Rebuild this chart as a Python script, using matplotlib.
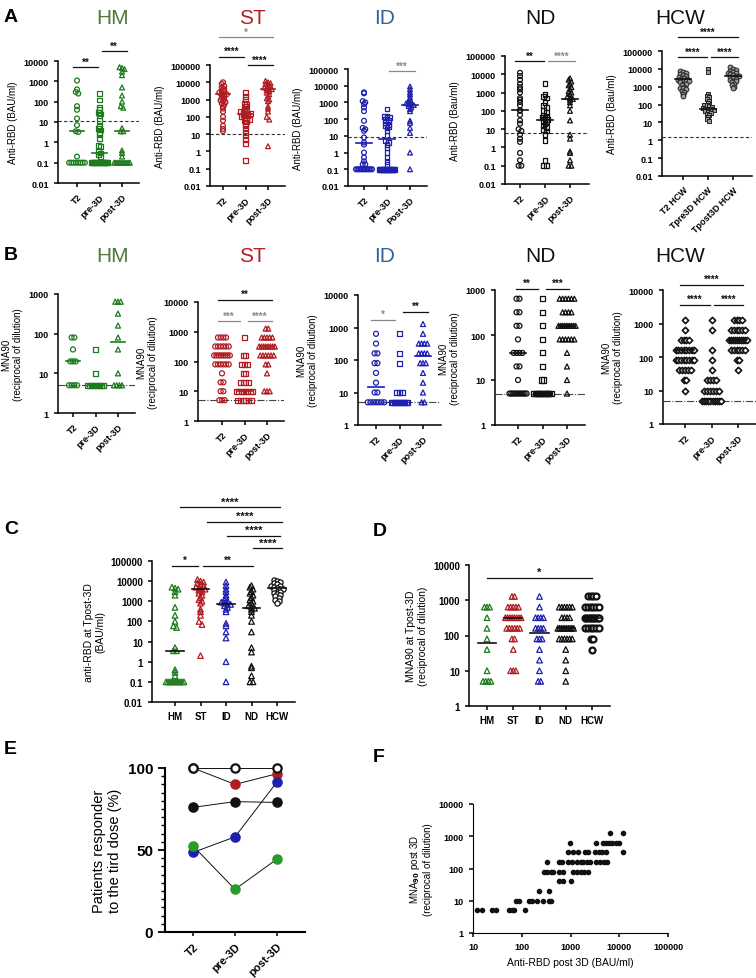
import numpy as np
import matplotlib
matplotlib.use("Agg")
import matplotlib.pyplot as plt
from matplotlib.ticker import NullLocator, MultipleLocator

plt.rcParams['font.family'] = ['Liberation Sans', 'DejaVu Sans']
plt.rcParams['font.weight'] = 'bold'

# ---------------- data ----------------
tp = ["T2", "pre-3D", "post-3D"]
tp_id = ["T2", "pre-3D", "Post-3D"]
tp_hcw = ["T2 HCW", "Tpre3D HCW", "Tpost3D HCW"]
groups = ["HM", "ST", "ID", "ND", "HCW"]

# Panel A: anti-RBD (BAU/ml)
hm_t2 = [1100, 400, 300, 250, 60, 40, 15, 7, 3.5, 3.2, 0.2] + [0.1] * 8
hm_pre = [250, 120, 50, 40, 30, 25, 20, 12, 6, 5, 4, 3, 2.5, 1.5, 0.7, 0.6, 0.35, 0.3, 0.25, 0.2] + [0.1] * 16
hm_post = [5000, 4500, 4000, 3000, 2000, 500, 200, 100, 60, 50, 5, 3.5, 3.5, 0.4, 0.3, 0.2] + [0.1] * 10
st_t2 = [10000, 8000, 6000, 5000, 4000, 3500, 3000, 2500, 2200, 2000, 2000, 1800, 1500, 1200, 1000,
         900, 800, 700, 600, 500, 400, 300, 200, 100, 60, 30, 20, 15]
st_pre = [2500, 1500, 1000, 600, 500, 400, 300, 250, 200, 180, 160, 150, 150, 140, 130, 120, 100, 90,
          80, 70, 60, 50, 40, 30, 20, 12, 8, 5, 3, 0.3]
st_post = [12000, 10000, 9000, 8000, 7000, 6000, 5000, 4500, 4000, 4000, 3500, 3000, 2500, 2000, 1500,
           1200, 1000, 800, 400, 300, 200, 100, 70, 2]
id_t2 = [4000, 3500, 1200, 1000, 800, 500, 300, 80, 30, 25, 20, 8, 4, 3, 1, 0.5, 0.3, 0.2, 0.2] + [0.1] * 12
id_pre = [400, 150, 140, 130, 120, 100, 80, 60, 50, 40, 35, 30, 20, 10, 5, 4, 3, 2, 1, 0.5, 0.3, 0.2] + [0.1] * 16
id_post = [9000, 6000, 4000, 3000, 2000, 1500, 1200, 1000, 900, 800, 700, 700, 600, 500, 400, 300,
           80, 60, 30, 15, 1, 0.1]
nd_t2 = [12000, 8000, 5000, 3000, 2000, 1500, 1000, 500, 400, 300, 200, 110, 100, 60, 30, 20, 10, 8,
         5, 3, 2, 0.5, 0.2, 0.1, 0.1]
nd_pre = [3000, 800, 600, 500, 300, 200, 150, 100, 80, 60, 50, 45, 40, 35, 30, 25, 20, 15, 12, 10, 8,
          5, 2.5, 0.2, 0.1, 0.1]
nd_post = [6000, 5000, 4000, 3000, 2500, 2000, 1500, 1200, 1000, 800, 600, 500, 450, 400, 300, 200,
           100, 30, 5, 3, 0.6, 0.5, 0.2, 0.1, 0.1]
hcw_t2 = [8000, 7000, 6000, 5000, 4500, 4000, 3500, 3000, 3000, 2800, 2500, 2500, 2200, 2000, 2000,
          1800, 1500, 1400, 1200, 1000, 900, 800, 700, 600, 500, 400, 300]
hcw_pre = [10000, 7000, 400, 300, 250, 200, 150, 120, 100, 90, 80, 70, 65, 60, 60, 55, 50, 45, 40, 35,
           30, 25, 20, 15, 12]
hcw_post = [12000, 10000, 9000, 8000, 7000, 6000, 5500, 5000, 4500, 4000, 4000, 3500, 3000, 2800,
            2500, 2200, 2000, 1800, 1500, 1200, 1000, 800]
a_medians = {"HM": [3.5, 0.3, 3.5], "ST": [2000, 150, 4000], "ID": [4, 6.5, 700],
             "ND": [110, 30, 450], "HCW": [2600, 60, 4200]}
a_cutoff = {"HM": 11, "ST": 10, "ID": 9, "ND": 6, "HCW": 1.6}

# Panel B: MNA90 (reciprocal of dilution)
b_hm_t2 = [80, 80, 40, 20, 20, 20, 5, 5, 5, 5]
b_hm_pre = [40, 10] + [5] * 9
b_hm_post = [640, 640, 640, 320, 160, 80, 40, 10, 5, 5, 5, 5]
b_st_t2 = [640] * 4 + [320] * 6 + [160] * 8 + [80] * 6 + [40] + [20] * 2 + [10] * 2 + [5] * 3
b_st_pre = [640] + [160] * 2 + [80] * 3 + [40] * 2 + [20] * 4 + [10] * 8 + [5] * 6
b_st_post = [1280] * 2 + [640] * 5 + [320] * 8 + [160] * 6 + [80] * 2 + [40] + [10] * 3
b_id_t2 = [640, 320, 160, 160, 80, 80, 40, 20, 10, 10] + [5] * 7
b_id_pre = [640, 160, 80, 10, 10, 10] + [5] * 12
b_id_post = [1280, 640, 320, 320, 320, 320, 160, 160, 160, 160, 80, 80, 80, 40, 20, 10, 5, 5]
b_nd_t2 = [640, 640, 320, 320, 160, 160, 80, 40, 40, 40, 40, 20, 20, 10] + [5] * 10
b_nd_pre = [640, 320, 160, 80, 40, 20, 10, 10] + [5] * 16
b_nd_post = [640] * 6 + [320] * 4 + [160] * 10 + [80] * 6 + [40, 20, 10, 5]
b_hcw_t2 = [1280, 640] + [320] * 4 + [160] * 8 + [80] * 8 + [40] * 5 + [20] * 2 + [10]
b_hcw_pre = [1280, 640, 160, 80, 40] + [20] * 4 + [10] * 6 + [5] * 10
b_hcw_post = [1280] * 4 + [640] * 6 + [320] * 10 + [160] * 6 + [80] * 2 + [40]
b_medians = {"HM": [20, 5, 60], "ST": [160, 10, 320], "ID": [15, 5, 130],
             "ND": [40, 5, 160], "HCW": [160, 5.5, 320]}

c_medians = [3.5, 4000, 700, 450, 4500]
d_medians = [60, 320, 120, 160, 320]

# Panel E: % responders
e_hcw = [100, 100, 100]
e_st = [100, 90, 96.5]
e_nd = [76, 79.5, 79]
e_id = [48.5, 58, 91.5]
e_hm = [52.5, 26, 44.5]

# Panel F: anti-RBD vs MNA90 post 3D
f_rbd = [12, 15.6, 25, 30, 55, 62, 69, 114,
         75, 88, 138, 166, 204, 270, 357, 397,
         229, 357,
         280, 331, 390, 435,
         331, 590, 670, 870, 1050, 1330, 1610, 1770, 2150, 2500, 3300, 4040, 4900, 5700,
         570, 690, 1030,
         590, 690, 1130, 1330, 1610, 1900, 2300,
         870, 1130, 1440, 1980, 2300, 3190, 3800, 4500, 5300, 12000,
         990, 3300, 4640, 5300, 6200, 7200, 8500, 10000,
         6400, 12000]
f_mna = [5] * 8 + [10] * 8 + [20] * 2 + [80] * 4 + [160] * 14 + [40] * 3 + [80] * 7 + [320] * 10 + [640] * 8 + [1280] * 2

# ---------------- styling ----------------
GREEN, RED, BLUE, BLACK = '#1d7a1d', '#b01c22', '#1f1fb0', '#111111'
TITLE_COL = {"HM": '#4d7a3c', "ST": '#b52025', "ID": '#2f6496', "ND": '#111111', "HCW": '#111111'}
GCOL = {"HM": GREEN, "ST": RED, "ID": BLUE, "ND": BLACK, "HCW": BLACK}

W, H = 756, 979
fig = plt.figure(figsize=(W / 100, H / 100), dpi=100)


def make_ax(spine, t0, t_last, top, bot, n=3, right_pad=0.75):
    s = (t_last - t0) / (n - 1)
    right = t_last + right_pad * s
    ax = fig.add_axes([spine / W, 1 - bot / H, (right - spine) / W, (bot - top) / H])
    ax.set_xlim(-(t0 - spine) / s, n - 1 + right_pad)
    for sp in ['top', 'right']:
        ax.spines[sp].set_visible(False)
    for sp in ['left', 'bottom']:
        ax.spines[sp].set_linewidth(1.1)
    ax.tick_params(width=1.1, length=3, labelsize=6.5)
    return ax


def log_y(ax, lo, hi):
    ax.set_yscale('log')
    ax.set_ylim(10.0 ** lo, 10.0 ** hi)
    ticks = 10.0 ** np.arange(lo, hi + 1)
    ax.set_yticks(ticks)
    ax.set_yticklabels([f"{int(t)}" if t >= 1 else f"{t:g}" for t in ticks])
    ax.yaxis.set_minor_locator(NullLocator())


def swarm(ax, xc, vals, marker, ec, fc='none', step=0.11, maxw=0.7, bw=0.16, s=12, lw=0.9):
    vals = np.asarray(vals, float)
    b = np.round(np.log10(vals) / bw)
    xs = np.zeros(len(vals))
    for u in np.unique(b):
        idx = np.where(b == u)[0]
        n = len(idx)
        st = min(step, maxw / max(n - 1, 1))
        xs[idx] = xc + (np.arange(n) - (n - 1) / 2) * st
    ax.scatter(xs, vals, marker=marker, s=s, facecolors=fc, edgecolors=ec,
               linewidths=lw, zorder=3, clip_on=False)


def median(ax, xc, m, color, hw=0.33):
    ax.plot([xc - hw, xc + hw], [m, m], color=color, lw=1.2, zorder=4)


def sig(ax, x1, x2, yf, text, color=BLACK, fs=7):
    tr = ax.get_xaxis_transform()
    ax.plot([x1, x2], [yf, yf], transform=tr, color=color, lw=0.9, clip_on=False)
    ax.text((x1 + x2) / 2, yf + 0.005, text, transform=tr, ha='center', va='bottom',
            fontsize=fs, color=color)


def xlabels(ax, labels, fs=6.5):
    ax.set_xticks(range(len(labels)))
    ax.set_xticklabels(labels, rotation=45, ha='right', rotation_mode='anchor', fontsize=fs)


markers = ['o', 's', '^']

# ---------------- Panel A ----------------
a_data = {"HM": [hm_t2, hm_pre, hm_post], "ST": [st_t2, st_pre, st_post],
          "ID": [id_t2, id_pre, id_post], "ND": [nd_t2, nd_pre, nd_post],
          "HCW": [hcw_t2, hcw_pre, hcw_post]}
a_geom = {"HM": (58, 77, 122, 62, 184, -2, 4), "ST": (210, 223, 268, 66, 187, -2, 5),
          "ID": (348, 364, 410, 70, 187, -2, 5), "ND": (505, 520, 570, 57, 185, -2, 5),
          "HCW": (662, 683, 733, 52, 177, -2, 5)}
a_title_x = {"HM": 113, "ST": 252, "ID": 385, "ND": 540, "HCW": 680}
a_sig = {"HM": [(-0.2, 0.95, 0.95, '**', BLACK), (1.1, 2.2, 1.08, '**', BLACK)],
         "ST": [(-0.2, 0.95, 1.07, '****', BLACK), (1.1, 2.2, 1.0, '****', BLACK),
                (-0.2, 2.2, 1.23, '*', '#888888')],
         "ID": [(1.1, 2.2, 0.98, '***', '#888888')],
         "ND": [(-0.2, 0.95, 0.96, '**', BLACK), (1.1, 2.2, 0.96, '****', '#888888')],
         "HCW": [(-0.2, 0.95, 0.95, '****', BLACK), (1.1, 2.2, 0.95, '****', BLACK),
                 (-0.2, 2.2, 1.11, '****', BLACK)]}

for g in groups:
    spine, t0, t2, top, bot, lo, hi = a_geom[g]
    ax = make_ax(spine, t0, t2, top, bot)
    log_y(ax, lo, hi)
    c = GCOL[g]
    for i, vals in enumerate(a_data[g]):
        if g == "HCW":
            swarm(ax, i, vals, ['o', 's', 'o'][i], '#222222', fc='#9a9a9a', lw=0.7, maxw=0.85)
        else:
            swarm(ax, i, vals, markers[i], c)
        median(ax, i, a_medians[g][i], c)
    ax.axhline(a_cutoff[g], ls=(0, (3, 2)), color='#333333', lw=0.8, zorder=1)
    xlabels(ax, tp_hcw if g == "HCW" else (tp_id if g == "ID" else tp))
    ax.set_ylabel("Anti-RBD (Bau/ml)" if g in ("ND", "HCW") else "Anti-RBD (BAU/ml)", fontsize=7)
    for x1, x2, yf, t, col in a_sig[g]:
        sig(ax, x1, x2, yf, t, col)
    fig.text(a_title_x[g] / W, 1 - 18 / H, g, color=TITLE_COL[g], fontsize=15,
             fontweight='normal', ha='center', va='center')

# ---------------- Panel B ----------------
b_data = {"HM": [b_hm_t2, b_hm_pre, b_hm_post], "ST": [b_st_t2, b_st_pre, b_st_post],
          "ID": [b_id_t2, b_id_pre, b_id_post], "ND": [b_nd_t2, b_nd_pre, b_nd_post],
          "HCW": [b_hcw_t2, b_hcw_pre, b_hcw_post]}
b_geom = {"HM": (58, 73, 118, 295, 414, 0, 3), "ST": (198, 222, 267, 303, 422, 0, 4),
          "ID": (358, 376, 423, 296, 426, 0, 4), "ND": (495, 518, 567, 291, 426, 0, 3),
          "HCW": (663, 685, 738, 291, 425, 0, 4)}
b_sig = {"HM": [],
         "ST": [(-0.2, 0.8, 0.84, '***', '#888888'), (1.15, 2.2, 0.84, '****', '#888888'),
                (-0.2, 2.2, 1.02, '**', BLACK)],
         "ID": [(-0.2, 0.8, 0.81, '*', '#888888'), (1.15, 2.2, 0.87, '**', BLACK)],
         "ND": [(-0.1, 0.8, 1.01, '**', BLACK), (1.15, 2.1, 1.01, '***', BLACK)],
         "HCW": [(-0.2, 0.95, 0.89, '****', BLACK), (1.1, 2.2, 0.89, '****', BLACK),
                 (-0.2, 2.2, 1.04, '****', BLACK)]}

for g in groups:
    spine, t0, t2, top, bot, lo, hi = b_geom[g]
    ax = make_ax(spine, t0, t2, top, bot)
    log_y(ax, lo, hi)
    c = GCOL[g]
    for i, vals in enumerate(b_data[g]):
        if g == "HCW":
            swarm(ax, i, vals, 'D', BLACK, fc='white', bw=0.1, s=10, lw=1.2, step=0.11)
        else:
            swarm(ax, i, vals, markers[i], c, bw=0.1, s=13, step=0.12)
        median(ax, i, b_medians[g][i], c)
    ax.axhline(5, ls='-.', color='#444444', lw=0.8, zorder=1)
    xlabels(ax, tp)
    ax.set_ylabel("MNA90\n(reciprocal of dilution)", fontsize=7)
    for x1, x2, yf, t, col in b_sig[g]:
        sig(ax, x1, x2, yf, t, col)
    fig.text(a_title_x[g] / W, 1 - 257 / H, g, color=TITLE_COL[g], fontsize=15,
             fontweight='normal', ha='center', va='center')

# ---------------- Panel C ----------------
c_data = [hm_post, st_post, id_post, nd_post, hcw_post]
ax = make_ax(152, 175, 277, 562, 703, n=5, right_pad=0.7)
log_y(ax, -2, 5)
for i, g in enumerate(groups):
    if g == "HCW":
        swarm(ax, i, c_data[i], 'o', BLACK, fc='white', s=14, lw=0.9, step=0.12)
    else:
        swarm(ax, i, c_data[i], '^', GCOL[g], s=16, step=0.12)
    median(ax, i, c_medians[i], BLACK, hw=0.35)
ax.set_xticks(range(5))
ax.set_xticklabels(groups, fontsize=7)
ax.tick_params(axis='y', labelsize=7)
ax.set_ylabel("anti-RBD at Tpost-3D\n(BAU/ml)", fontsize=7.5)
sig(ax, -0.1, 0.9, 0.965, '*')
sig(ax, 1.1, 3.05, 0.965, '**')
sig(ax, 0.2, 4.1, 1.38, '****', fs=8)
sig(ax, 1.25, 4.2, 1.28, '****', fs=8)
sig(ax, 2.05, 4.1, 1.18, '****', fs=8)
sig(ax, 3.05, 4.2, 1.09, '****', fs=8)

# ---------------- Panel D ----------------
d_data = [b_hm_post, b_st_post, b_id_post, b_nd_post, b_hcw_post]
ax = make_ax(469, 487, 592, 566, 707, n=5, right_pad=0.7)
log_y(ax, 0, 4)
for i, g in enumerate(groups):
    if g == "HCW":
        swarm(ax, i, d_data[i], 'o', BLACK, fc='white', bw=0.1, s=18, lw=1.6, step=0.1, maxw=0.55)
    else:
        swarm(ax, i, d_data[i], '^', GCOL[g], bw=0.1, s=16, step=0.1, maxw=0.6)
    median(ax, i, d_medians[i], BLACK, hw=0.35)
ax.set_xticks(range(5))
ax.set_xticklabels(groups, fontsize=7)
ax.tick_params(axis='y', labelsize=7)
ax.set_ylabel("MNA90 at Tpost-3D\n(reciprocal of dilution)", fontsize=7.5)
sig(ax, 0, 4, 0.91, '*', fs=8)

# ---------------- Panel E ----------------
ax = make_ax(165, 193, 277, 769, 933, n=3, right_pad=0.67)
ax.set_ylim(0, 100)
xe = np.arange(3)
for vals, col, fc in [(e_st, RED, RED), (e_nd, BLACK, BLACK), (e_id, BLUE, BLUE),
                      (e_hm, '#2a9a2a', '#2a9a2a'), (e_hcw, BLACK, 'white')]:
    ax.plot(xe, vals, color=BLACK, lw=0.7, zorder=2, clip_on=False)
    ax.plot(xe, vals, 'o', ms=6, mfc=fc, mec=col, mew=1.6, zorder=3, clip_on=False)
ax.set_yticks([0, 50, 100])
ax.yaxis.set_minor_locator(MultipleLocator(5))
ax.tick_params(axis='y', which='major', length=5, width=1.3, labelsize=11)
ax.tick_params(axis='y', which='minor', length=3, width=1.0)
for sp in ['left', 'bottom']:
    ax.spines[sp].set_linewidth(1.5)
xlabels(ax, tp, fs=8)
ax.set_ylabel("Patients responder\nto the tird dose (%)", fontsize=10.5)

# ---------------- Panel F ----------------
ax = fig.add_axes([473 / W, 1 - 934 / H, (668 - 473) / W, (934 - 805) / H])
for sp in ['top', 'right']:
    ax.spines[sp].set_visible(False)
ax.set_xscale('log')
ax.set_xlim(10, 100000)
ax.set_xticks([10, 100, 1000, 10000, 100000])
ax.set_xticklabels(["10", "100", "1000", "10000", "100000"])
ax.xaxis.set_minor_locator(NullLocator())
log_y(ax, 0, 4)
ax.tick_params(width=1.1, length=3, labelsize=6.5)
ax.scatter(f_rbd, f_mna, s=9, color=BLACK, zorder=3)
ax.set_ylabel("MNA$_{90}$ post 3D\n(reciprocal of dilution)", fontsize=7)
ax.set_xlabel("Anti-RBD post 3D (BAU/ml)", fontsize=7.5)

# ---------------- panel letters ----------------
for letter, x, y in [("A", 4, 18), ("B", 4, 256), ("C", 4, 530), ("D", 373, 532),
                     ("E", 4, 750), ("F", 373, 757)]:
    fig.text(x / W, 1 - y / H, letter, fontsize=14, fontweight='bold', va='center', ha='left')

fig.savefig("out.png", dpi=100)
